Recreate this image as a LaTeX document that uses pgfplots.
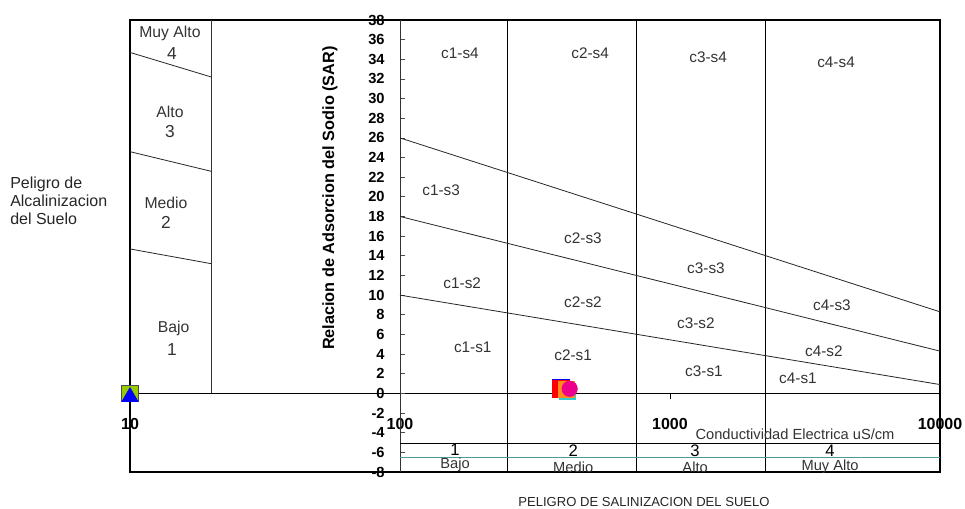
\documentclass[border=0pt]{standalone}
\usepackage{fontspec}
\setmainfont{Liberation Sans}
\usepackage{pgfplots}
\pgfplotsset{compat=1.18}
\definecolor{lgreen}{HTML}{99CC00}
\definecolor{lorange}{HTML}{FF8C1A}
\definecolor{lcyan}{HTML}{33CCCC}
\definecolor{teal2}{HTML}{4A9A9A}
\begin{document}
\begin{tikzpicture}
\useasboundingbox (0,0) rectangle (723.75pt,381pt);
% x axis line at y = 0 with its ticks
\begin{axis}[at={(97.5pt,27pt)}, anchor=south west, scale only axis,
  width=607.5pt, height=339pt, xmode=log, xmin=10, xmax=10000, ymin=-8, ymax=38,
  axis x line=middle, axis y line=none,
  axis line style={-, black, line width=0.9pt},
  xtick={10,100,1000,10000}, xticklabels={10,100,1000,10000}, xminorticks=false,
  tick align=outside, major tick length=4.5pt, tick style={black, line width=0.6pt},
  xticklabel style={font=\bfseries\fontsize{12}{14}\selectfont, yshift=-11pt}]
\end{axis}
% y ticks at x = 100
\begin{axis}[at={(300pt,27pt)}, anchor=south west, scale only axis,
  width=405pt, height=339pt, xmode=log, xmin=100, xmax=10000, ymin=-8, ymax=38,
  axis y line=left, axis x line=none,
  axis line style={-, black!75, line width=0.7pt},
  ytick={-8,-6,...,38}, yminorticks=false,
  tick align=inside, major tick length=4pt, tick style={black!70, line width=0.6pt},
  /pgf/number format/assume math mode=true,
  yticklabel style={font=\bfseries\fontsize{11}{12}\selectfont, xshift=-8pt},
  ylabel={Relacion de Adsorcion del Sodio (SAR)},
  ylabel style={font=\bfseries\fontsize{12.2}{14}\selectfont, at={(axis description cs:-0.13,0.606)}, anchor=center}]
\end{axis}
% main frame with classes
\begin{axis}[at={(97.5pt,27pt)}, anchor=south west, scale only axis,
  width=607.5pt, height=339pt, xmode=log, xmin=10, xmax=10000, ymin=-8, ymax=38,
  axis line style={black, line width=1.4pt},
  xtick=\empty, ytick=\empty, xminorticks=false, yminorticks=false, clip=false]
% vertical class limits
\addplot[black!80, line width=0.7pt] coordinates {(20,38) (20,0)};
\addplot[black!80, line width=0.7pt] coordinates {(100,38) (100,-8)};
\addplot[black, line width=0.7pt] coordinates {(250,38) (250,-8)};
\addplot[black, line width=0.7pt] coordinates {(750,38) (750,-8)};
\addplot[black, line width=0.7pt] coordinates {(2250,38) (2250,-8)};
% sodium hazard limits
\addplot[black!85, line width=0.6pt] coordinates {(100,10) (10000,0.9)};
\addplot[black!85, line width=0.6pt] coordinates {(100,18) (10000,4.3)};
\addplot[black!85, line width=0.6pt] coordinates {(100,26) (10000,8.3)};
% alkalinity scale
\addplot[black!85, line width=0.6pt] coordinates {(10,34.7) (20,32.2)};
\addplot[black!85, line width=0.6pt] coordinates {(10,24.6) (20,22.6)};
\addplot[black!85, line width=0.6pt] coordinates {(10,14.7) (20,13.2)};
% salinity scale
\addplot[black, line width=0.7pt] coordinates {(100,-5.1) (10000,-5.1)};
\addplot[teal2, line width=0.7pt] coordinates {(100,-6.5) (10000,-6.5)};
% alkalinity scale texts
\begin{scope}[every node/.style={text=black!80, font=\fontsize{11.8}{13}\selectfont}]
\node at (axis cs:14.06,36.6) {Muy Alto};
\node at (axis cs:14.06,28.7) {Alto};
\node at (axis cs:13.6,19.4) {Medio};
\node at (axis cs:14.5,6.6) {Bajo};
\end{scope}
\begin{scope}[every node/.style={text=black!80, font=\fontsize{13}{15}\selectfont}]
\node at (axis cs:14.3,34.6) {4};
\node at (axis cs:14.06,26.7) {3};
\node at (axis cs:13.6,17.4) {2};
\node at (axis cs:14.3,4.5) {1};
\end{scope}
% region labels
\begin{scope}[every node/.style={text=black!80, font=\fontsize{11.5}{13}\selectfont}]
\node at (axis cs:166.8,34.6) {c1-s4};
\node at (axis cs:506,34.6) {c2-s4};
\node at (axis cs:1384,34.2) {c3-s4};
\node at (axis cs:4121,33.7) {c4-s4};
\node at (axis cs:142,20.7) {c1-s3};
\node at (axis cs:476,15.8) {c2-s3};
\node at (axis cs:1359,12.7) {c3-s3};
\node at (axis cs:3981,9.0) {c4-s3};
\node at (axis cs:170,11.2) {c1-s2};
\node at (axis cs:476,9.3) {c2-s2};
\node at (axis cs:1247,7.1) {c3-s2};
\node at (axis cs:3715,4.3) {c4-s2};
\node at (axis cs:186,4.7) {c1-s1};
\node at (axis cs:438,3.9) {c2-s1};
\node at (axis cs:1336,2.3) {c3-s1};
\node at (axis cs:2979,1.5) {c4-s1};
\end{scope}
\begin{scope}[every node/.style={text=black!80, font=\fontsize{11}{13}\selectfont}]
\node at (axis cs:2904,-4.13) {Conductividad Electrica uS/cm};
\node at (axis cs:160,-7.3) {Bajo};
\node at (axis cs:438,-7.5) {Medio};
\node at (axis cs:1239,-7.5) {Alto};
\node at (axis cs:3917,-7.5) {Muy Alto};
\end{scope}
\begin{scope}[every node/.style={text=black, font=\fontsize{12.5}{14}\selectfont}]
\node at (axis cs:160,-5.7) {1};
\node at (axis cs:438,-5.8) {2};
\node at (axis cs:1239,-5.8) {3};
\node at (axis cs:3917,-5.8) {4};
\end{scope}
% samples
\addplot[only marks, mark=square*, mark size=6.2pt, mark options={fill=lgreen, draw=black!70, line width=0.5pt}] coordinates {(10,0)};
\addplot[only marks, mark=triangle*, mark size=7pt, mark options={fill=blue, draw=blue}] coordinates {(10,-0.35)};
\addplot[only marks, mark=square*, mark size=6.4pt, mark options={fill=blue, draw=blue}] coordinates {(393,0.58)};
\addplot[only marks, mark=square*, mark size=6.4pt, mark options={fill=red, draw=red}] coordinates {(392.6,0.47)};
\addplot[only marks, mark=square*, mark size=6pt, mark options={fill=lcyan, draw=lcyan}] coordinates {(416,0.26)};
\addplot[only marks, mark=square*, mark size=6pt, mark options={fill=lorange, draw=lorange}] coordinates {(412,0.37)};
\addplot[only marks, mark=*, mark size=5.8pt, mark options={fill=magenta, draw=magenta}] coordinates {(425,0.47)};
\end{axis}
\node[anchor=west, align=left, inner sep=0pt, text=black!85, font=\fontsize{12}{13.5}\selectfont] at (7.5pt,230.25pt) {Peligro de\\Alcalinizacion\\del Suelo};
\node[text=black!85, font=\fontsize{9.8}{12}\selectfont] at (483pt,4.5pt) {PELIGRO DE SALINIZACION DEL SUELO};
\end{tikzpicture}
\end{document}
